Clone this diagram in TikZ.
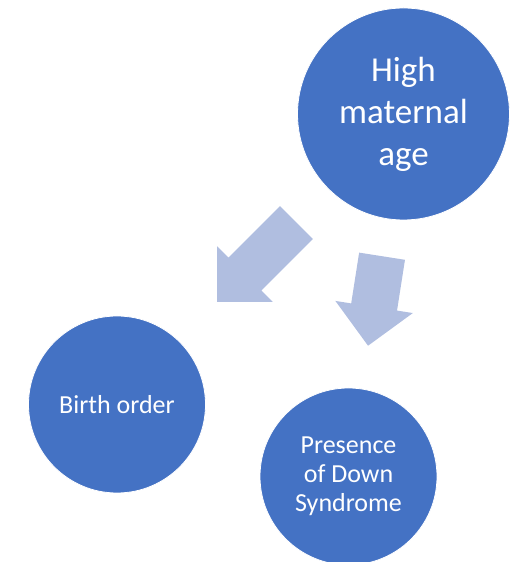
\documentclass[tikz,border=0pt]{standalone}
\usepackage{fontspec}
\setmainfont{Carlito}
\usetikzlibrary{shapes.arrows}

\definecolor{circleblue}{RGB}{68,114,196}
\definecolor{arrowblue}{RGB}{176,190,224}

\tikzset{
  bubble/.style={circle, fill=circleblue, draw=white, line width=0.8pt,
    text=white, align=center, inner sep=0pt, minimum size=#1},
  fatarrow/.style={single arrow, fill=arrowblue, inner xsep=0pt, inner ysep=23pt,
    single arrow head extend=16pt, single arrow tip angle=90,
    minimum height=#1, anchor=tip},
}

\begin{document}
\begin{tikzpicture}[x=1pt,y=1pt]
      % Page frame
      \useasboundingbox (0,0) rectangle (524,562);

      % The three circles
      \node[bubble=212pt, font=\fontsize{35}{42}\selectfont] (age) at (403.5,448)
        {High\\maternal\\age};
      \node[bubble=177pt, font=\fontsize{26}{30}\selectfont] (order) at (117,157.5)
        {Birth order};
      \node[bubble=177pt, font=\fontsize{26}{29}\selectfont] (down) at (348.5,85.5)
        {Presence\\of Down\\Syndrome};

      % Block arrows, placed by their tips
      \node[fatarrow=112pt, rotate=225] (toorder) at (217,260) {};
      \node[fatarrow=90.6pt, rotate=261.1] (todown) at (368,216) {};
\end{tikzpicture}
\end{document}
